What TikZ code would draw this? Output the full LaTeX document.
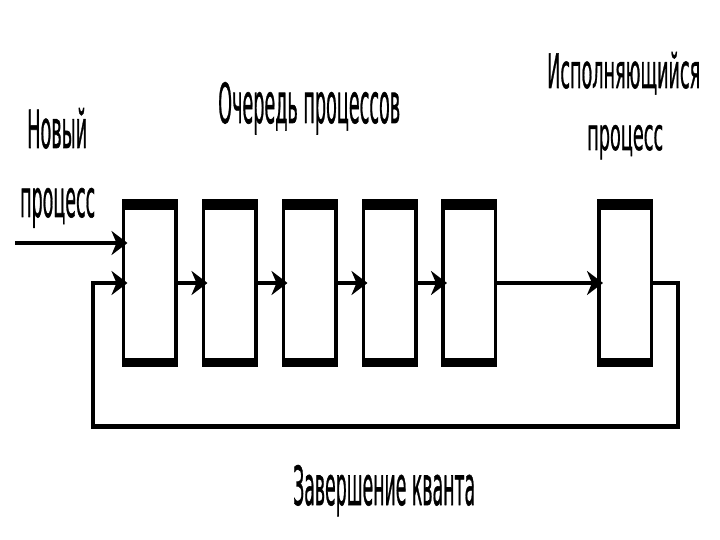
\documentclass[tikz,border=0pt]{standalone}
\usepackage{graphicx}
\usepackage{fontspec}
\setmainfont{DejaVu Sans}
\newfontfamily\lblfont{DejaVu Sans}[FakeBold=1.2]
\usetikzlibrary{arrows.meta}
\begin{document}
\begin{tikzpicture}[x=1pt,y=-1pt,
  qbox/.style={draw=black, line width=3.5pt, minimum width=52.5pt, minimum height=164.5pt,
    inner sep=0pt, fill=white,
    path picture={
      \fill[black] (path picture bounding box.north west) rectangle ([yshift=-9pt]path picture bounding box.north east);
      \fill[black] (path picture bounding box.south west) rectangle ([yshift=7.5pt]path picture bounding box.south east);
    }},
  flow/.style={line width=4.5pt, line join=miter},
  arr/.style={flow, -{Stealth[length=16pt,width=24pt,inset=5pt]}, shorten >=-6pt},
  txt/.style={inner sep=0pt, anchor=base west, font=\lblfont}
]
\useasboundingbox[fill=white] (0,0) rectangle (720,540);

% boxes
\node[qbox] (b1) at (149.5,283) {};
\node[qbox] (b2) at (229.5,283) {};
\node[qbox] (b3) at (309.5,283) {};
\node[qbox] (b4) at (389.5,283) {};
\node[qbox] (b5) at (469,283) {};
\node[qbox] (b6) at (625,283) {};

% helper coordinates
\coordinate (newin) at (15,243);
\coordinate (fr) at (678,283);
\coordinate (fb) at (93,426.5);

% connectors
\draw[arr] (newin) -- (newin -| b1.west);
\draw[arr] (b1.east) -- (b2.west);
\draw[arr] (b2.east) -- (b3.west);
\draw[arr] (b3.east) -- (b4.west);
\draw[arr] (b4.east) -- (b5.west);
\draw[arr] (b5.east) -- (b6.west);
\draw[arr] (b6.east) -- (fr) |- (fb) |- (b1.west);

% texts
\node[txt] (tnew1) at (27,148) {\resizebox{60pt}{40pt}{Новый}};
\node[txt] (tnew2) at (20,217) {\resizebox{75pt}{29pt}{процесс}};
\node[txt] (tq) at (218,123) {\resizebox{182pt}{41pt}{Очередь процессов}};
\node[txt] (trun1) at (547,88) {\resizebox{153pt}{36pt}{Исполняющийся}};
\node[txt] (trun2) at (587,150) {\resizebox{76pt}{25pt}{процесс}};
\node[txt] (tend) at (293,505) {\resizebox{182pt}{40pt}{Завершение кванта}};
\end{tikzpicture}
\end{document}
